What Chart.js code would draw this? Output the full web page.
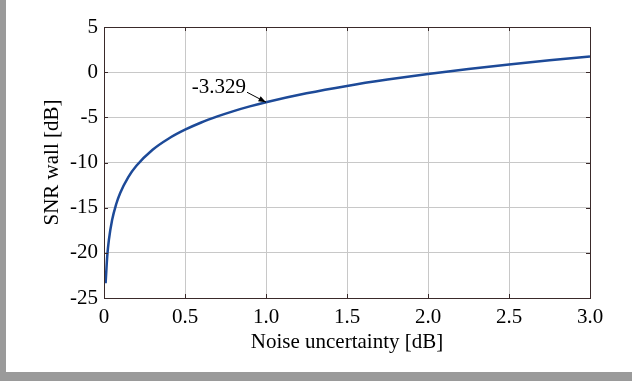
<!DOCTYPE html>
<html>
<head>
<meta charset="utf-8">
<script src="https://cdn.jsdelivr.net/npm/chart.js@4/dist/chart.umd.min.js"></script>
<style>
  html, body { margin: 0; padding: 0; background: #fff; }
  #wrap {
    width: 632px; height: 381px; box-sizing: border-box;
    border-left: 6px solid #9a9a9a; border-bottom: 9px solid #9a9a9a;
  }
</style>
</head>
<body>
<div id="wrap"><canvas id="snrChart" width="626" height="372"></canvas></div>
<script>
// noise uncertainty [dB]
const noiseUncertainty = [0.01, 0.02, 0.03, 0.05, 0.075, 0.1, 0.15, 0.2, 0.3, 0.4, 0.5, 0.6, 0.7, 0.8, 0.9, 1.0,
  1.25, 1.5, 1.75, 2.0, 2.25, 2.5, 2.75, 3.0];
// SNR wall [dB]
const snrWall = [-23.37, -20.36, -18.6, -16.37, -14.62, -13.37, -11.61, -10.36, -8.59, -7.34, -6.37, -5.57, -4.9,
  -4.31, -3.79, -3.329, -2.34, -1.52, -0.82, -0.2, 0.35, 0.85, 1.31, 1.74];
const xTicks = [0, 0.5, 1.0, 1.5, 2.0, 2.5, 3.0];
const yTicks = [-25, -20, -15, -10, -5, 0, 5];
const markX = 1.0;
const markY = -3.329;
const markLabel = "-3.329";

const serif = "'Liberation Serif', 'DejaVu Serif', serif";

const boxAndNote = {
  id: "boxAndNote",
  afterDraw(chart) {
    const { ctx, chartArea: a, scales } = chart;
    ctx.save();
    ctx.strokeStyle = "#3a2a2a";
    ctx.lineWidth = 1;
    ctx.strokeRect(a.left + 0.5, a.top + 0.5, a.right - a.left, a.bottom - a.top);

    // small inward tick marks on all four sides
    ctx.beginPath();
    scales.x.ticks.forEach((t) => {
      const x = Math.round(scales.x.getPixelForValue(t.value)) + 0.5;
      ctx.moveTo(x, a.bottom); ctx.lineTo(x, a.bottom - 4);
      ctx.moveTo(x, a.top); ctx.lineTo(x, a.top + 4);
    });
    scales.y.ticks.forEach((t) => {
      const y = Math.round(scales.y.getPixelForValue(t.value)) + 0.5;
      ctx.moveTo(a.left, y); ctx.lineTo(a.left + 4, y);
      ctx.moveTo(a.right, y); ctx.lineTo(a.right - 4, y);
    });
    ctx.stroke();

    // annotation arrow + label
    const px = scales.x.getPixelForValue(markX);
    const py = scales.y.getPixelForValue(markY);
    const sx = px - 19, sy = py - 10;
    const ang = Math.atan2(py - sy, px - sx);
    ctx.strokeStyle = "#000";
    ctx.fillStyle = "#000";
    ctx.lineWidth = 1;
    ctx.beginPath();
    ctx.moveTo(sx, sy);
    ctx.lineTo(px, py);
    ctx.stroke();
    ctx.beginPath();
    ctx.moveTo(px, py);
    ctx.lineTo(px - 8 * Math.cos(ang - 0.35), py - 8 * Math.sin(ang - 0.35));
    ctx.lineTo(px - 8 * Math.cos(ang + 0.35), py - 8 * Math.sin(ang + 0.35));
    ctx.closePath();
    ctx.fill();
    ctx.font = "21px " + serif;
    ctx.textAlign = "right";
    ctx.textBaseline = "middle";
    ctx.fillText(markLabel, sx - 1, sy - 5);
    ctx.restore();
  }
};

new Chart(document.getElementById("snrChart"), {
  type: "line",
  data: {
    datasets: [{
      data: noiseUncertainty.map((x, i) => ({ x: x, y: snrWall[i] })),
      borderColor: "#1d4a98",
      borderWidth: 2.5,
      pointRadius: 0,
      tension: 0.4,
      cubicInterpolationMode: "monotone",
      fill: false
    }]
  },
  options: {
    responsive: false,
    animation: false,
    layout: { padding: { top: 27, right: 42, left: 0, bottom: 0 } },
    plugins: { legend: { display: false }, tooltip: { enabled: false } },
    scales: {
      x: {
        type: "linear",
        min: 0,
        max: 3,
        afterBuildTicks: (s) => { s.ticks = xTicks.map((v) => ({ value: v })); },
        afterFit: (s) => { s.height = 74; },
        grid: { color: "#c8c8c8", drawTicks: false },
        border: { color: "#3a2a2a" },
        ticks: {
          color: "#000",
          padding: 7,
          maxRotation: 0,
          font: { family: serif, size: 21 },
          callback: (v) => (v === 0 ? "0" : v.toFixed(1))
        },
        title: {
          display: true,
          text: "Noise uncertainty [dB]",
          color: "#000",
          font: { family: serif, size: 21 },
          padding: { top: 0, bottom: 17 }
        }
      },
      y: {
        min: -25,
        max: 5,
        afterBuildTicks: (s) => { s.ticks = yTicks.map((v) => ({ value: v })); },
        afterFit: (s) => { s.width = 98; },
        grid: { color: "#c8c8c8", drawTicks: false },
        border: { color: "#3a2a2a" },
        ticks: {
          color: "#000",
          padding: 6,
          font: { family: serif, size: 21 }
        },
        title: {
          display: true,
          text: "SNR wall [dB]",
          color: "#000",
          font: { family: serif, size: 21 },
          padding: { top: 34, bottom: 0 }
        }
      }
    }
  },
  plugins: [boxAndNote]
});
</script>
</body>
</html>
